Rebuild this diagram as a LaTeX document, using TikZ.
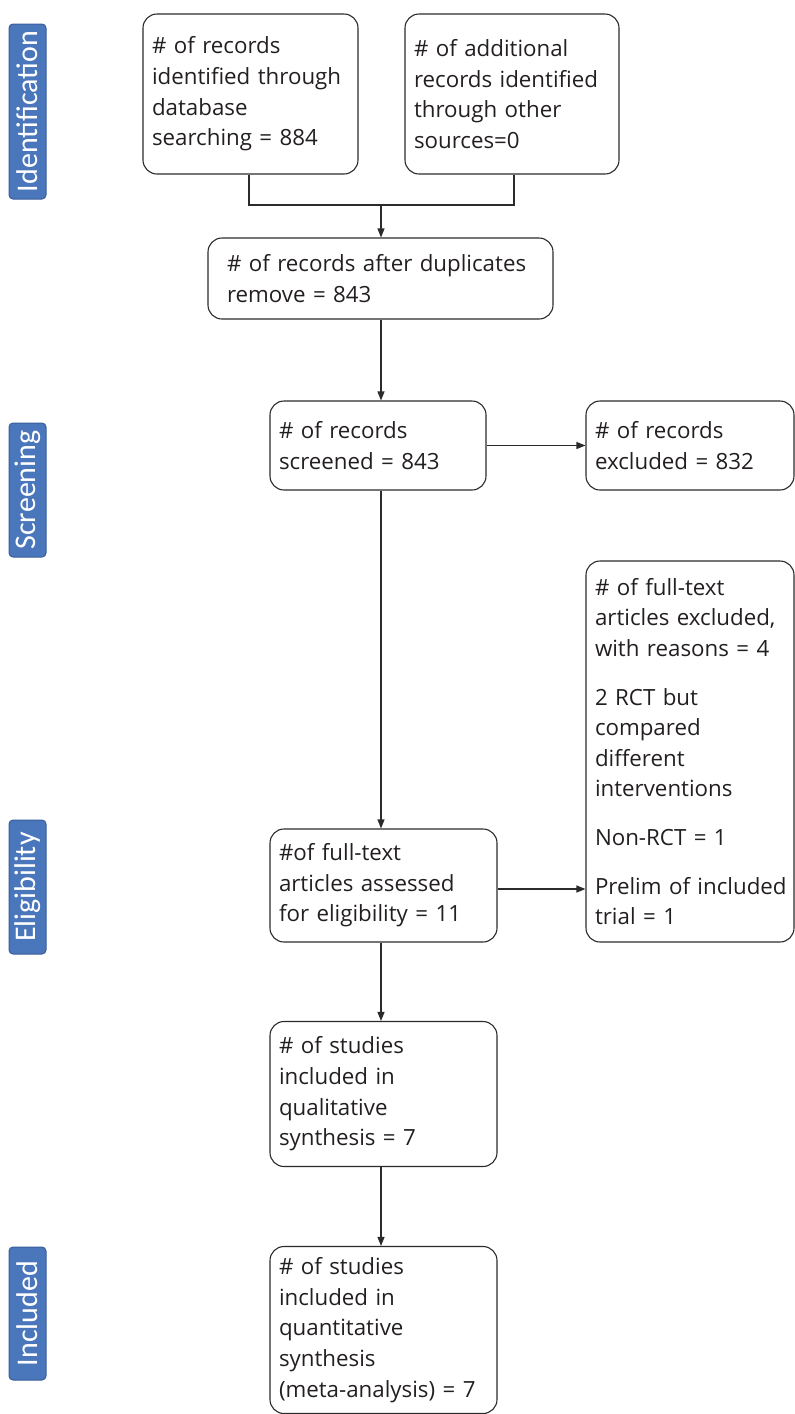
\documentclass[tikz,border=0pt]{standalone}
\usepackage{fontspec}
\setmainfont{Open Sans}
\newfontfamily\labelfont{Carlito}
\usetikzlibrary{arrows.meta}
\definecolor{txt}{HTML}{231F20}
\definecolor{edge}{HTML}{2B2B2B}
\definecolor{phase}{HTML}{4A76BB}
\definecolor{phaseedge}{HTML}{3A5E98}
\begin{document}
\begin{tikzpicture}[x=1pt,y=-1pt,
  box/.style={draw=edge, line width=1.1pt, rounded corners=14pt, align=left,
    inner xsep=9pt, inner ysep=0pt, text=txt, font=\fontsize{22.3}{30.6}\selectfont},
  phaselabel/.style={draw=phaseedge, line width=1pt, fill=phase, rounded corners=4pt,
    rotate=90, text=white, minimum height=37pt, inner sep=0pt,
    font=\labelfont\fontsize{30}{30}\selectfont},
  conn/.style={draw=edge, line width=1.1pt},
  arr/.style={conn, -{Triangle[length=9pt,width=7pt]}}]
\useasboundingbox (0,0) rectangle (795,1414);

% phase labels
\node[phaselabel, minimum width=175pt] (lid) at (27.5,111.5) {Identification};
\node[phaselabel, minimum width=134pt] (lsc) at (27.5,490) {Screening};
\node[phaselabel, minimum width=134pt] (lel) at (27.5,887) {Eligibility};
\node[phaselabel, minimum width=133pt] (lin) at (27.5,1313.5) {Included};

% boxes
\node[box, minimum width=215pt, minimum height=160pt, text width=197pt] (A) at (250.5,94)
  {\# of records\\identified through\\database\\searching = 884};
\node[box, minimum width=214pt, minimum height=160pt, text width=196pt] (B) at (512,94)
  {\# of additional\\records identified\\through other\\sources=0};
\node[box, minimum width=345pt, minimum height=81pt, inner xsep=19pt, text width=307pt] (C) at (380.5,278.5)
  {\# of records after duplicates\\remove = 843};
\node[box, minimum width=216pt, minimum height=89pt, text width=198pt] (D) at (378,445.5)
  {\# of records\\screened = 843};
\node[box, minimum width=208pt, minimum height=89pt, text width=190pt] (E) at (690,445.5)
  {\# of records\\excluded = 832};
\node[box, minimum width=208pt, minimum height=381pt, text width=190pt] (F) at (690,751.5)
  {\# of full-text\\articles excluded,\\with reasons = 4\\[18pt]2 RCT but\\compared\\different\\interventions\\[18pt]Non-RCT = 1\\[18pt]\mbox{Prelim of included}\\trial = 1};
\node[box, minimum width=227pt, minimum height=113pt, text width=209pt] (G) at (383.5,885.5)
  {\#of full-text\\articles assessed\\for eligibility = 11};
\node[box, minimum width=227pt, minimum height=145pt, text width=209pt] (H) at (383.5,1094)
  {\# of studies\\included in\\qualitative\\synthesis = 7};
\node[box, minimum width=227pt, minimum height=167pt, text width=209pt] (I) at (383.5,1330)
  {\# of studies\\included in\\quantitative\\synthesis\\(meta-analysis) = 7};

% connectors
\coordinate (spine) at (381,0);
\coordinate (merge) at (381,205);
\draw[conn] (A.south -| 249,0) |- (merge) -| (B.south -| 514,0);
\draw[arr] (merge) -- (C.north -| spine);
\draw[arr] (C.south -| spine) -- (D.north -| spine);
\draw[arr] (D.east) -- (E.west |- D.east);
\draw[arr] (D.south -| spine) -- (G.north -| spine);
\draw[arr] (G.east |- 0,889) -- (F.west |- 0,889);
\draw[arr] (G.south -| spine) -- (H.north -| spine);
\draw[arr] (H.south -| spine) -- (I.north -| spine);
\end{tikzpicture}
\end{document}
